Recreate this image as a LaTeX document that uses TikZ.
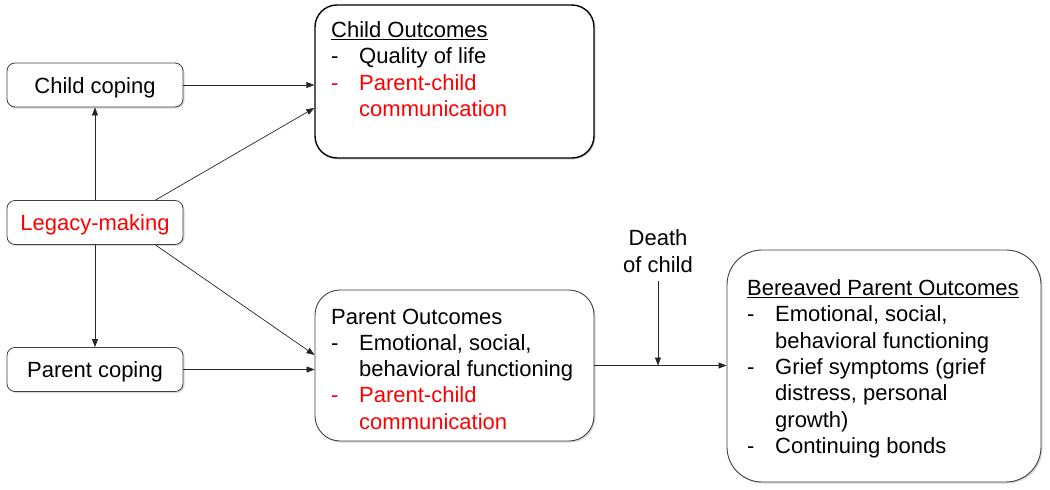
\documentclass[tikz,border=0pt]{standalone}
\usepackage{fontspec}
\setmainfont{Liberation Sans}
\usetikzlibrary{arrows.meta,shadows,calc}
\definecolor{myred}{RGB}{255,0,0}
\newcommand{\itm}[1]{\makebox[28pt][l]{-}#1}
\newcommand{\cnt}[1]{\hspace*{28pt}#1}
\begin{document}
\begin{tikzpicture}[x=1pt,y=-1pt,
  every node/.style={font=\fontsize{22}{26.3}\selectfont},
  shade/.style={drop shadow={opacity=0.3,shadow xshift=1.5pt,shadow yshift=-1.5pt}},
  smallbox/.style={draw=black!75, line width=0.8pt, rounded corners=8pt, fill=white, shade, minimum width=176, minimum height=44, inner sep=0pt, text height=16pt, text depth=0pt},
  bigbox/.style={draw=black!75, line width=0.9pt, fill=white, shade, inner sep=0pt},
  txt/.style={anchor=north west, align=left, inner sep=0pt},
  arr/.style={draw=black!85, line width=0.7pt, -{Triangle[length=8pt,width=6pt]}}
]
\useasboundingbox (0,0) rectangle (1050,490);

% small boxes
\node[smallbox] (cc) at (95,85) {Child coping};
\node[smallbox, text=myred] (lm) at (95,222.5) {Legacy-making};
\node[smallbox] (pc) at (95,369.5) {Parent coping};

% outcome boxes
\node[bigbox, draw=black, line width=1.4pt, rounded corners=22pt, minimum width=279, minimum height=153] (co) at (454.5,81.5) {};
\node[txt] (cot) at (331,21.5) {\underline{Child Outcomes}\\
\itm{Quality of life}\\
\textcolor{myred}{\itm{Parent-child}}\\
\textcolor{myred}{\cnt{communication}}};

\node[bigbox, rounded corners=25pt, minimum width=279, minimum height=151] (po) at (454.5,365.5) {};
\node[txt] (pot) at (331,308.5) {Parent Outcomes\\
\itm{Emotional, social,}\\
\cnt{behavioral functioning}\\
\textcolor{myred}{\itm{Parent-child}}\\
\textcolor{myred}{\cnt{communication}}};

\node[bigbox, rounded corners=35pt, minimum width=314, minimum height=232] (bp) at (884,366) {};
\node[txt] (bpt) at (747,279.5) {\underline{Bereaved Parent Outcomes}\\
\itm{Emotional, social,}\\
\cnt{behavioral functioning}\\
\itm{Grief symptoms (grief}\\
\cnt{distress, personal}\\
\cnt{growth)}\\
\itm{Continuing bonds}};

\node[align=center, inner sep=0pt] (death) at (658,251) {Death\\of child};

% connectors
\draw[arr] (cc.east) -- (cc.east -| co.west);
\draw[arr] (lm.north) -- (cc.south);
\draw[arr] (lm.south) -- (pc.north);
\draw[arr] ([xshift=-28pt]lm.north east) -- ($(co.west)+(0,26.5)$);
\draw[arr] ([xshift=-28pt]lm.south east) -- ($(po.west)+(0,-10.5)$);
\draw[arr] (pc.east) -- (pc.east -| po.west);
\draw[arr] (po.east) -- (po.east -| bp.west);
\draw[arr] ([yshift=-9pt]death.south) -- (death.south |- po.east);
\end{tikzpicture}
\end{document}
